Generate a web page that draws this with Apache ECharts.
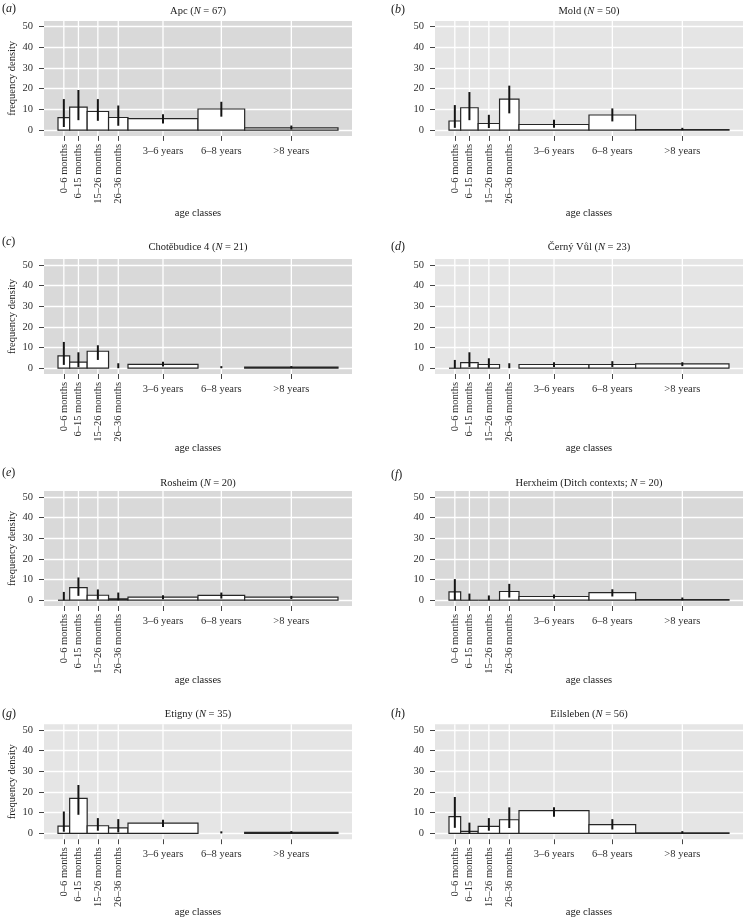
<!DOCTYPE html>
<html>
<head>
<meta charset="utf-8">
<script src="https://cdn.jsdelivr.net/npm/echarts@6/dist/echarts.min.js"></script>
<style>
html,body{margin:0;padding:0;background:#ffffff;}
#c{width:746px;height:919px;}
</style>
</head>
<body>
<div id="c"></div>
<script>
// ---------- data ----------
const classLabels = ['0\u20136 months','6\u201315 months','15\u201326 months','26\u201336 months','3\u20136 years','6\u20138 years','>8 years'];
const classBounds = [0, 6, 15, 26, 36, 72, 96, 144]; // age in months
const yTicks = [0, 10, 20, 30, 40, 50];

const panelLetters = ['a','b','c','d','e','f','g','h'];
const panelSites = ['Apc','Mold','Chot\u011bbudice 4','\u010cern\u00fd V\u016fl','Rosheim','Herxheim','Etigny','Eilsleben'];
const panelNotes = ['','','','','','Ditch contexts; ','',''];
const panelN = [67, 50, 21, 23, 20, 20, 35, 56];

// frequency density per class (null = no bar)
const apcDensity   = [6.0, 11.1, 9.0, 6.1, 5.6, 10.2, 1.1];
const apcLow       = [1.5, 4.8, 4.5, 2.1, 3.2, 6.5, 0.3];
const apcHigh      = [15.0, 19.4, 15.0, 11.9, 7.7, 13.7, 2.2];

const moldDensity  = [4.4, 10.8, 3.2, 15.0, 2.7, 7.3, 0.3];
const moldLow      = [1.1, 4.8, 1.0, 8.1, 1.1, 4.2, 0.0];
const moldHigh     = [12.1, 18.4, 7.4, 21.5, 5.0, 10.5, 1.1];

const chotDensity  = [6.0, 2.9, 8.2, null, 1.9, null, 0.5];
const chotLow      = [1.6, 0.5, 4.0, 0.0, 0.8, 0.0, 0.1];
const chotHigh     = [12.7, 7.7, 11.1, 2.4, 3.1, 1.0, 1.0];

const cernyDensity = [0, 2.7, 1.8, null, 1.8, 1.8, 2.1];
const cernyLow     = [0.0, 0.6, 0.2, 0.0, 0.6, 0.6, 1.0];
const cernyHigh    = [4.0, 7.7, 4.8, 2.4, 2.9, 3.4, 2.9];

const roshDensity  = [0, 6.1, 2.4, 0.6, 1.5, 2.3, 1.5];
const roshLow      = [0.0, 2.1, 0.3, 0.0, 0.5, 0.8, 0.6];
const roshHigh     = [4.0, 11.0, 5.2, 3.7, 2.4, 3.7, 2.1];

const herxDensity  = [4.0, 0, 0, 4.2, 1.8, 3.7, 0.3];
const herxLow      = [0.0, 0.0, 0.0, 1.3, 0.8, 1.8, 0.0];
const herxHigh     = [10.2, 3.2, 2.3, 7.9, 2.7, 5.3, 1.3];

const etigDensity  = [3.5, 16.9, 3.7, 2.7, 5.0, null, 0.5];
const etigLow      = [0.8, 9.0, 1.3, 0.5, 3.1, 0.0, 0.0];
const etigHigh     = [10.6, 23.4, 7.4, 6.9, 6.6, 1.0, 1.1];

const eilsDensity  = [8.1, 1.0, 3.4, 6.6, 11.0, 4.2, 0.3];
const eilsLow      = [2.7, 0.0, 1.3, 2.6, 8.1, 1.9, 0.0];
const eilsHigh     = [17.6, 5.2, 7.4, 12.6, 12.7, 6.9, 1.1];

const panelDensity = [apcDensity, moldDensity, chotDensity, cernyDensity, roshDensity, herxDensity, etigDensity, eilsDensity];
const panelLow  = [apcLow, moldLow, chotLow, cernyLow, roshLow, herxLow, etigLow, eilsLow];
const panelHigh = [apcHigh, moldHigh, chotHigh, cernyHigh, roshHigh, herxHigh, etigHigh, eilsHigh];

// ---------- layout / style ----------
const colLeft = [44, 435];
const rowTop = [20.9, 259, 491, 724.2];
const plotW = 308, plotH = 115;
const titleY = [11, 247, 483.3, 714];
const letterPos = [[2, 9], [391, 10], [2, 241.7], [391, 246.7], [2, 472.7], [391, 475], [2, 714], [391, 714]];
const xNameY = [213.3, 448.7, 680, 912.7];
const bgColors = ['#d9d9d9','#e5e5e5','#d9d9d9','#e5e5e5','#d9d9d9','#d9d9d9','#e5e5e5','#e5e5e5'];
const FONT = '"Liberation Serif","Times New Roman",serif';
const FS = 10.5;
const TICK = '#454545';

const mids = classBounds.slice(0, -1).map((b, i) => (b + classBounds[i + 1]) / 2);
const monthMids = mids.slice(0, 4);
const yearMids = mids.slice(4);
const xSpan = classBounds[classBounds.length - 1] - classBounds[0];
const xMin = classBounds[0] - 0.05 * xSpan, xMax = classBounds[classBounds.length - 1] + 0.05 * xSpan;
const yMin = -2.8, yMax = 52.8;

function labelFor(v) {
  const i = mids.findIndex(m => Math.abs(m - v) < 1e-6);
  return i >= 0 ? classLabels[i] : '';
}

function renderBar(params, api) {
  const x0 = api.value(0), x1 = api.value(1), v = api.value(2);
  const a = api.coord([x0, v]);
  const b = api.coord([x1, 0]);
  if (v === 0) {
    return {type: 'line', shape: {x1: a[0], y1: b[1], x2: b[0], y2: b[1]},
            style: {stroke: '#262626', lineWidth: 1.2}};
  }
  return {type: 'rect', shape: {x: a[0], y: a[1], width: b[0] - a[0], height: b[1] - a[1]},
          style: {fill: '#ffffff', stroke: '#262626', lineWidth: 1.2}};
}
function renderErr(params, api) {
  const p0 = api.coord([api.value(0), api.value(1)]);
  const p1 = api.coord([api.value(0), api.value(2)]);
  return {type: 'line', shape: {x1: p0[0], y1: p0[1], x2: p1[0], y2: p1[1]},
          style: {stroke: '#141414', lineWidth: 2}};
}
function renderGrid(params, api) {
  const p0 = api.coord([api.value(0), yMin]);
  const p1 = api.coord([api.value(0), yMax]);
  return {type: 'line', shape: {x1: p0[0], y1: p0[1], x2: p1[0], y2: p1[1]},
          style: {stroke: '#ffffff', lineWidth: 1.3}};
}

const grids = [], xAxes = [], yAxes = [], series = [], graphics = [];
const axisText = {fontFamily: FONT, fontSize: FS, color: '#2e2e2e'};

panelDensity.forEach((dens, k) => {
  const col = k % 2, row = Math.floor(k / 2);
  const left = colLeft[col], top = rowTop[row];
  grids.push({left: left, top: top, width: plotW, height: plotH, show: true,
              backgroundColor: bgColors[k], borderWidth: 0, containLabel: false, outerBoundsMode: 'none'});

  const xBase = {
    type: 'value', gridIndex: k, min: xMin, max: xMax, position: 'bottom',
    axisLine: {show: false, onZero: false},
    splitLine: {show: false},
    minorSplitLine: {show: false}
  };
  xAxes.push(Object.assign({}, xBase, {
    axisTick: {show: true, customValues: monthMids, length: 5, lineStyle: {color: TICK, width: 1}},
    axisLabel: Object.assign({show: true, customValues: monthMids, rotate: 90, margin: 8,
                              formatter: labelFor}, axisText)
  }));
  xAxes.push(Object.assign({}, xBase, {
    axisTick: {show: true, customValues: yearMids, length: 5, lineStyle: {color: TICK, width: 1}},
    axisLabel: Object.assign({show: true, customValues: yearMids, rotate: 0, margin: 10,
                              formatter: labelFor}, axisText)
  }));
  yAxes.push({
    type: 'value', gridIndex: k, min: yMin, max: yMax, position: 'left',
    axisLine: {show: false, onZero: false},
    axisTick: {show: true, customValues: yTicks, length: 5, lineStyle: {color: TICK, width: 1}},
    axisLabel: Object.assign({show: true, customValues: yTicks, margin: 11}, axisText),
    splitLine: {show: true, lineStyle: {color: '#ffffff', width: 1.3}}
  });

  const barData = [];
  dens.forEach((v, i) => {
    if (v !== null) barData.push([classBounds[i], classBounds[i + 1], v]);
  });
  const errData = mids.map((m, i) => [m, panelLow[k][i], panelHigh[k][i]]);
  const gridData = mids.map(m => [m]);

  series.push({type: 'custom', xAxisIndex: 2 * k, yAxisIndex: k, renderItem: renderGrid,
               data: gridData, encode: {x: 0}, silent: true, z: 1});
  series.push({type: 'custom', xAxisIndex: 2 * k, yAxisIndex: k, renderItem: renderBar,
               data: barData, encode: {x: [0, 1], y: 2}, silent: true, z: 3});
  series.push({type: 'custom', xAxisIndex: 2 * k, yAxisIndex: k, renderItem: renderErr,
               data: errData, encode: {x: 0, y: [1, 2]}, silent: true, z: 4});

  const cx = left + plotW / 2;
  graphics.push({type: 'text', x: cx, y: titleY[row], silent: true,
    style: {text: panelSites[k] + ' (' + panelNotes[k] + '{i|N} = ' + panelN[k] + ')',
            font: FS + 'px ' + FONT, fill: '#1a1a1a', align: 'center', verticalAlign: 'middle',
            rich: {i: {fontStyle: 'italic', fontSize: FS, fontFamily: FONT, fill: '#1a1a1a'}}}});
  graphics.push({type: 'text', x: letterPos[k][0], y: letterPos[k][1], silent: true,
    style: {text: '({i|' + panelLetters[k] + '})', font: '12px ' + FONT, fill: '#1a1a1a',
            align: 'left', verticalAlign: 'middle',
            rich: {i: {fontStyle: 'italic', fontSize: 12, fontFamily: FONT, fill: '#1a1a1a'}}}});
  graphics.push({type: 'text', x: cx, y: xNameY[row], silent: true,
    style: {text: 'age classes', font: FS + 'px ' + FONT, fill: '#1a1a1a', align: 'center', verticalAlign: 'middle'}});
  if (col === 0) {
    graphics.push({type: 'text', x: 12, y: top + plotH / 2, rotation: Math.PI / 2, silent: true,
      style: {text: 'frequency density', font: FS + 'px ' + FONT, fill: '#1a1a1a', align: 'center', verticalAlign: 'middle'}});
  }
});

const chart = echarts.init(document.getElementById('c'), null, {renderer: 'canvas'});
chart.setOption({
  animation: false,
  backgroundColor: '#ffffff',
  grid: grids,
  xAxis: xAxes,
  yAxis: yAxes,
  series: series,
  graphic: graphics
});
</script>
</body>
</html>
